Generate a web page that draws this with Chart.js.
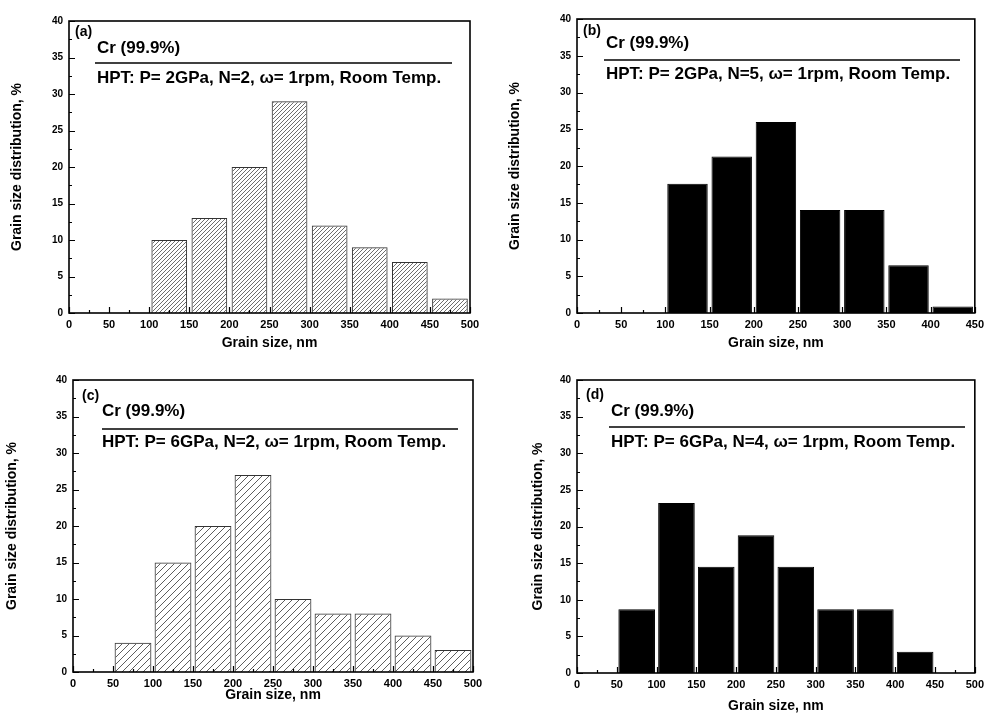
<!DOCTYPE html>
<html>
<head>
<meta charset="utf-8">
<script src="https://cdn.jsdelivr.net/npm/chart.js@4"></script>
<style>
  html, body { margin: 0; padding: 0; background: #fff; }
  body { width: 989px; height: 715px; position: relative; overflow: hidden; }
  canvas { position: absolute; }
</style>
</head>
<body>
<canvas id="ca" width="494" height="357" style="left:0;top:0"></canvas>
<canvas id="cb" width="494" height="357" style="left:495px;top:0"></canvas>
<canvas id="cc" width="494" height="355" style="left:0;top:360px"></canvas>
<canvas id="cd" width="494" height="355" style="left:495px;top:360px"></canvas>
<script>
// lower edge of each 50 nm bin, and the share of grains in it (%)
const binsA = [100, 150, 200, 250, 300, 350, 400, 450];
const valuesA = [10, 13, 20, 29, 12, 9, 7, 2];
const binsB = [100, 150, 200, 250, 300, 350, 400];
const valuesB = [17.6, 21.3, 26, 14, 14, 6.5, 0.9];
const binsC = [50, 100, 150, 200, 250, 300, 350, 400, 450];
const valuesC = [4, 15, 20, 27, 10, 8, 8, 5, 3];
const binsD = [50, 100, 150, 200, 250, 300, 350, 400];
const valuesD = [8.7, 23.2, 14.5, 18.8, 14.5, 8.7, 8.7, 2.9];
const binWidth = 50;

const material = 'Cr (99.9%)';
const labels = ['(a)', '(b)', '(c)', '(d)'];
const conditions = [
  'HPT: P= 2GPa, N=2, \u03c9= 1rpm, Room Temp.',
  'HPT: P= 2GPa, N=5, \u03c9= 1rpm, Room Temp.',
  'HPT: P= 6GPa, N=2, \u03c9= 1rpm, Room Temp.',
  'HPT: P= 6GPa, N=4, \u03c9= 1rpm, Room Temp.'
];

Chart.defaults.color = '#000';
Chart.defaults.font.family = '"Liberation Sans", Arial, sans-serif';
Chart.defaults.font.weight = 'bold';

function hatch(size, color) {
  const c = document.createElement('canvas');
  c.width = size; c.height = size;
  const g = c.getContext('2d');
  g.strokeStyle = color;
  g.lineWidth = 1;
  g.beginPath();
  g.moveTo(-1, size + 1); g.lineTo(size + 1, -1);
  g.moveTo(-1, 1); g.lineTo(1, -1);
  g.moveTo(size - 1, size + 1); g.lineTo(size + 1, size - 1);
  g.stroke();
  return g.createPattern(c, 'repeat');
}

const decor = {
  id: 'decor',
  afterDatasetsDraw(chart, args, o) {
    const { ctx, chartArea: a, scales: { x, y } } = chart;
    ctx.save();
    ctx.strokeStyle = '#000';
    // inward ticks, majors and minors
    ctx.lineWidth = 1.2;
    ctx.beginPath();
    for (let v = 0; v <= 40; v += 2.5) {
      const py = Math.round(y.getPixelForValue(v)) + 0.5;
      const len = v % 5 === 0 ? 6 : 3;
      ctx.moveTo(a.left, py); ctx.lineTo(a.left + len, py);
    }
    for (let v = 0; v <= o.xmax; v += 25) {
      const px = Math.round(x.getPixelForValue(v)) + 0.5;
      const len = v % 50 === 0 ? 6 : 3;
      ctx.moveTo(px, a.bottom); ctx.lineTo(px, a.bottom - len);
    }
    ctx.stroke();
    // frame
    ctx.lineWidth = 1.6;
    ctx.strokeRect(a.left, a.top, a.right - a.left, a.bottom - a.top);
    // annotation block
    const t = o.text;
    ctx.fillStyle = '#000';
    ctx.textBaseline = 'middle';
    ctx.textAlign = 'left';
    ctx.font = 'bold 14px "Liberation Sans", Arial, sans-serif';
    ctx.fillText(o.label, a.left + t.lab[0], a.top + t.lab[1]);
    ctx.font = 'bold 17px "Liberation Sans", Arial, sans-serif';
    ctx.fillText(material, a.left + t.cr[0], a.top + t.cr[1]);
    ctx.fillText(o.cond, a.left + t.hpt[0], a.top + t.hpt[1]);
    ctx.lineWidth = 1.5;
    ctx.beginPath();
    ctx.moveTo(a.left + t.line[0], a.top + t.line[2]);
    ctx.lineTo(a.left + t.line[1], a.top + t.line[2]);
    ctx.stroke();
    ctx.restore();
  }
};

function makeChart(id, bins, values, fill, border, p) {
  return new Chart(document.getElementById(id), {
    type: 'bar',
    data: {
      datasets: [{
        data: bins.map((b, i) => ({ x: b + binWidth / 2, y: values[i] })),
        backgroundColor: fill,
        borderColor: border,
        borderWidth: 1,
        barPercentage: p.bar,
        categoryPercentage: 1
      }]
    },
    options: {
      responsive: false,
      animation: false,
      layout: { padding: { left: 0, top: p.top, right: p.right, bottom: 0 } },
      plugins: {
        legend: { display: false },
        tooltip: { enabled: false },
        decor: { xmax: p.xmax, label: p.label, cond: p.cond, text: p.text }
      },
      scales: {
        x: {
          type: 'linear',
          offset: false,
          min: 0,
          max: p.xmax,
          grid: { display: false, drawTicks: false },
          border: { display: false },
          ticks: { stepSize: 50, padding: 5, font: { size: 11, weight: 'bold' }, maxRotation: 0 },
          title: { display: true, text: 'Grain size, nm', font: { size: 14, weight: 'bold' }, padding: { top: 0, bottom: p.xtp } },
          afterFit(s) { s.height = p.xh; }
        },
        y: {
          min: 0,
          max: 40,
          grid: { display: false, drawTicks: false },
          border: { display: false },
          ticks: { stepSize: 5, padding: 6, font: { size: 10, weight: 'bold' } },
          title: { display: true, text: 'Grain size distribution, %', font: { size: 14, weight: 'bold' }, padding: { top: p.ytp, bottom: 0 } },
          afterFit(s) { s.width = p.yw; }
        }
      }
    },
    plugins: [decor]
  });
}

makeChart('ca', binsA, valuesA, hatch(4, '#6e6e6e'), '#333', {
  bar: 0.89, top: 21, right: 24, yw: 69, xh: 44, ytp: 9, xtp: 5, xmax: 500,
  label: labels[0], cond: conditions[0],
  text: { lab: [6, 11], cr: [28, 27], line: [26, 383, 42], hpt: [28, 57] }
});
makeChart('cb', binsB, valuesB, '#000', '#000', {
  bar: 0.915, top: 19, right: 12, yw: 82, xh: 44, ytp: 12, xtp: 5, xmax: 450,
  label: labels[1], cond: conditions[1],
  text: { lab: [6, 12], cr: [29, 24], line: [27, 383, 41], hpt: [29, 55] }
});
makeChart('cc', binsC, valuesC, hatch(7, '#5e5e5e'), '#333', {
  bar: 0.92, top: 20, right: 21, yw: 73, xh: 43, ytp: 4, xtp: 11, xmax: 500,
  label: labels[2], cond: conditions[2],
  text: { lab: [9, 16], cr: [29, 31], line: [29, 385, 49], hpt: [29, 62] }
});
makeChart('cd', binsD, valuesD, '#000', '#000', {
  bar: 0.92, top: 20, right: 12, yw: 82, xh: 42, ytp: 35, xtp: 0, xmax: 500,
  label: labels[3], cond: conditions[3],
  text: { lab: [9, 15], cr: [34, 31], line: [32, 388, 47], hpt: [34, 62] }
});
</script>
</body>
</html>
